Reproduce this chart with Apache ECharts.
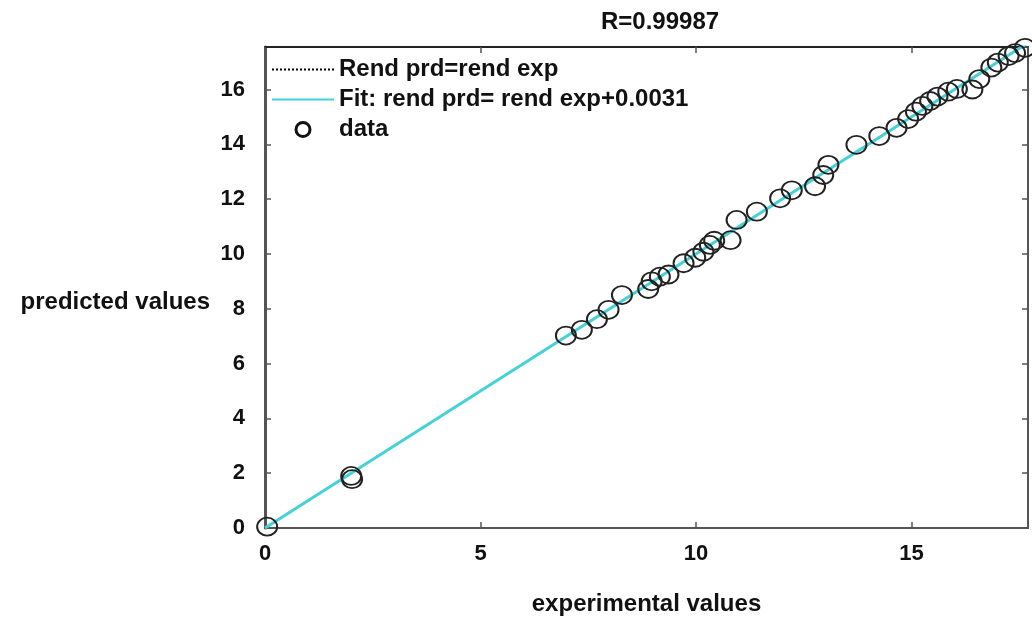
<!DOCTYPE html>
<html>
<head>
<meta charset="utf-8">
<script src="https://cdn.jsdelivr.net/npm/echarts@6/dist/echarts.min.js"></script>
<style>
html,body{margin:0;padding:0;background:#fff;}
#chart{width:1032px;height:623px;}
</style>
</head>
<body>
<div id="chart"></div>
<script>
const expValues = [0.05, 2.00, 2.02, 6.98, 7.35, 7.70, 7.97, 8.28, 8.89, 8.97, 9.16, 9.36, 9.71, 9.98, 10.17, 10.32, 10.42, 10.80, 10.94, 11.41, 11.95, 12.22, 12.76, 12.95, 13.07, 13.72, 14.25, 14.65, 14.92, 15.10, 15.25, 15.43, 15.60, 15.85, 16.05, 16.41, 16.57, 16.85, 17.00, 17.25, 17.40, 17.63];
const prdValues = [0.05, 1.90, 1.78, 7.02, 7.23, 7.62, 7.96, 8.50, 8.72, 9.00, 9.17, 9.25, 9.66, 9.86, 10.08, 10.33, 10.48, 10.50, 11.24, 11.54, 12.03, 12.32, 12.47, 12.88, 13.25, 13.98, 14.30, 14.60, 14.92, 15.19, 15.40, 15.58, 15.74, 15.92, 16.02, 16.00, 16.38, 16.80, 16.98, 17.22, 17.33, 17.52];
// reference line y = x and fit y = x + 0.0031, endpoints
const lineX = [0, 17.7];
const fitOffset = 0.0031;
const xTicks = [0, 5, 10, 15];
const yTicks = [0, 2, 4, 6, 8, 10, 12, 14, 16];
const seriesNames = ['Rend prd=rend exp', 'Fit: rend prd= rend exp+0.0031', 'data'];
const titleText = 'R=0.99987';
const xName = 'experimental values';
const yName = 'predicted values';

const scatterData = expValues.map((x, i) => [x, prdValues[i]]);
const idLine = lineX.map(x => [x, x]);
const fitLine = lineX.map(x => [x, x + fitOffset]);

const FONT = "'Liberation Sans', Arial, sans-serif";
const chart = echarts.init(document.getElementById('chart'), null, {renderer: 'canvas'});

const xLabelFmt = v => (xTicks.indexOf(v) >= 0 ? String(v) : '');
const yLabelFmt = v => (yTicks.indexOf(v) >= 0 ? String(v) : '');

chart.setOption({
  animation: false,
  backgroundColor: '#ffffff',
  title: {
    text: titleText,
    left: 596, top: 5,
    textStyle: {fontFamily: FONT, fontWeight: 'bold', fontSize: 24, color: '#111'}
  },
  legend: {
    orient: 'vertical',
    left: 266, top: 52,
    itemWidth: 62, itemHeight: 14, itemGap: 5,
    textStyle: {fontFamily: FONT, fontWeight: 'bold', fontSize: 24, color: '#111', lineHeight: 25},
    data: [
      {name: seriesNames[0], itemStyle: {opacity: 0}},
      {name: seriesNames[1], itemStyle: {opacity: 0}},
      {name: seriesNames[2], icon: 'circle', itemStyle: {color: 'rgba(0,0,0,0)', borderColor: '#111', borderWidth: 3, opacity: 1}}
    ]
  },
  grid: {left: 265, right: 4, top: 47, bottom: 95, containLabel: false},
  xAxis: [{
    type: 'value', min: 0, max: 17.7, interval: 5, position: 'bottom',
    name: xName, nameLocation: 'middle', nameGap: 64,
    nameTextStyle: {fontFamily: FONT, fontWeight: 'bold', fontSize: 24, color: '#111'},
    axisLine: {show: true, onZero: false, lineStyle: {color: '#555', width: 2}},
    axisTick: {show: true, inside: true, length: 6, lineStyle: {color: '#555', width: 1.5}},
    axisLabel: {fontFamily: FONT, fontWeight: 'bold', fontSize: 22, color: '#111', margin: 15, formatter: xLabelFmt, showMaxLabel: false},
    splitLine: {show: false}
  }, {
    type: 'value', min: 0, max: 17.7, interval: 5, position: 'top',
    axisLine: {show: true, onZero: false, lineStyle: {color: '#222', width: 2}},
    axisTick: {show: true, inside: true, length: 6, lineStyle: {color: '#555', width: 1.5}},
    axisLabel: {show: false},
    splitLine: {show: false}
  }],
  yAxis: [{
    type: 'value', min: 0, max: 17.55, interval: 2, position: 'left',
    axisLine: {show: true, onZero: false, lineStyle: {color: '#555', width: 3}},
    axisTick: {show: true, inside: true, length: 6, lineStyle: {color: '#555', width: 1.5}},
    axisLabel: {fontFamily: FONT, fontWeight: 'bold', fontSize: 22, color: '#111', margin: 20, formatter: yLabelFmt, showMaxLabel: false},
    splitLine: {show: false}
  }, {
    type: 'value', min: 0, max: 17.55, interval: 2, position: 'right',
    axisLine: {show: true, onZero: false, lineStyle: {color: '#555', width: 2}},
    axisTick: {show: true, inside: true, length: 6, lineStyle: {color: '#555', width: 1.5}},
    axisLabel: {show: false},
    splitLine: {show: false}
  }],
  graphic: [{
    type: 'text',
    right: 1032 - 210, top: 290,
    style: {text: yName, fontFamily: FONT, fontWeight: 'bold', fontSize: 24, fill: '#111'}
  }],
  series: [{
    name: seriesNames[0], type: 'line', data: idLine, symbol: 'none',
    lineStyle: {color: '#000', width: 1.2, type: 'dotted'},
    itemStyle: {color: '#000'}, z: 1
  }, {
    name: seriesNames[1], type: 'line', data: fitLine, symbol: 'none',
    lineStyle: {color: '#45d2d6', width: 3},
    itemStyle: {color: '#45d2d6'}, z: 2
  }, {
    name: seriesNames[2], type: 'scatter', data: scatterData,
    symbol: 'circle', symbolSize: [20, 18], clip: false,
    itemStyle: {color: 'rgba(0,0,0,0)', borderColor: '#222', borderWidth: 1.9, opacity: 1},
    z: 3
  }]
});
</script>
</body>
</html>
